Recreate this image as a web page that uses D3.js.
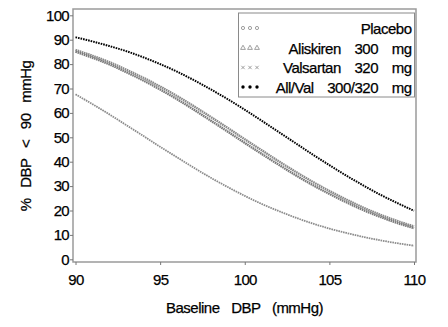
<!DOCTYPE html>
<html><head><meta charset="utf-8">
<script src="https://cdn.jsdelivr.net/npm/d3@7"></script>
<style>body{margin:0;background:#fff}svg{display:block}text{font-family:"Liberation Sans",Arial,sans-serif;fill:#000;stroke:#000;stroke-width:0.25}</style>
</head><body><svg id="c" width="448" height="327"></svg>
<script>
const xValues = [90,91,92,93,94,95,96,97,98,99,100,101,102,103,104,105,106,107,108,109,110];
const placebo   = [67.6,63.6,59.4,55.0,50.6,46.1,41.8,37.5,33.4,29.6,26.0,22.7,19.8,17.1,14.7,12.6,10.8,9.2,7.8,6.6,5.6];
const aliskiren = [85.8,83.4,80.8,77.7,74.4,70.8,66.9,62.7,58.3,53.8,49.2,44.7,40.2,35.9,31.8,28.0,24.5,21.2,18.3,15.7,13.5];
const valsartan = [85.1,82.6,79.9,76.7,73.3,69.6,65.6,61.3,56.8,52.3,47.7,43.2,38.8,34.5,30.5,26.8,23.4,20.2,17.4,14.9,12.8];
const aliVal    = [91.0,89.3,87.4,85.3,82.8,80.0,76.9,73.4,69.6,65.6,61.3,56.8,52.2,47.6,43.0,38.6,34.3,30.3,26.5,23.1,19.9];
const seriesNames = ["Placebo","Aliskiren 300 mg","Valsartan 320 mg","All/Val 300/320 mg"];
const xTicks = [90,95,100,105,110];
const yTicks = [0,10,20,30,40,50,60,70,80,90,100];

const svg = d3.select("#c");
const x = d3.scaleLinear().domain([90,110]).range([75.5,414]);
const y = d3.scaleLinear().domain([0,100]).range([259.3,15.3]);
const fL = 73, fR = 416, fT = 9, fB = 262;

// frame
svg.append("rect").attr("x",fL).attr("y",fT).attr("width",fR-fL).attr("height",fB-fT)
  .attr("fill","none").attr("stroke","#9a9a9a").attr("stroke-width",1.5);

// y axis
const yAx = svg.append("g").attr("transform",`translate(${fL},0)`)
  .call(d3.axisLeft(y).tickValues(yTicks).tickSize(3).tickPadding(1));
yAx.select(".domain").remove();
yAx.selectAll("line").attr("stroke","#777");
yAx.selectAll("text").attr("font-size",15).attr("font-family","Liberation Sans, Arial").attr("letter-spacing","-0.7").attr("fill","#000");

// x axis
const xAx = svg.append("g").attr("transform",`translate(0,${fB})`)
  .call(d3.axisBottom(x).tickValues(xTicks).tickSize(3).tickPadding(9));
xAx.select(".domain").remove();
xAx.selectAll("line").attr("stroke","#777");
xAx.selectAll("text").attr("font-size",15).attr("font-family","Liberation Sans, Arial").attr("letter-spacing","-0.7").attr("fill","#000");

// titles
svg.append("text").attr("x",244.5).attr("y",313).attr("text-anchor","middle")
  .attr("font-size",15).attr("letter-spacing","-0.5").attr("word-spacing","8px").text("Baseline DBP (mmHg)");
svg.append("text").attr("transform","translate(31,136) rotate(-90)").attr("text-anchor","middle")
  .attr("font-size",15).attr("letter-spacing","-0.5").attr("word-spacing","7px").text("% DBP < 90 mmHg");

// curves
const line = d3.line().x((d,i)=>x(xValues[i])).y(d=>y(d)).curve(d3.curveMonotoneX);
const styles = [
  {data:placebo, stroke:"#8c8c8c", w:1.8, dash:"1.6,0.8"},
  {data:aliskiren, stroke:"#8a8a8a", w:2.4, dash:"1.6,0.6"},
  {data:valsartan, stroke:"#7a7a7a", w:2.4, dash:"1.6,0.6"},
  {data:aliVal, stroke:"#000", w:2, dash:"1.6,1"}
];
styles.forEach(s=>{
  svg.append("path").attr("d",line(s.data)).attr("fill","none")
    .attr("stroke",s.stroke).attr("stroke-width",s.w).attr("stroke-dasharray",s.dash);
});

// legend
const lg = svg.append("g");
lg.append("rect").attr("x",238.5).attr("y",13).attr("width",176).attr("height",84)
  .attr("fill","#fff").attr("stroke","#8a8a8a").attr("stroke-width",1);
const rowY = [28,48,67.5,87];
const symX = [243,250,257];
seriesNames.forEach((name,i)=>{
  const yy = rowY[i];
  symX.forEach(sx=>{
    if(i===0) lg.append("circle").attr("cx",sx).attr("cy",yy).attr("r",1.6).attr("fill","none").attr("stroke","#888").attr("stroke-width",0.8);
    else if(i===1) lg.append("path").attr("d",d3.symbol(d3.symbolTriangle,10)()).attr("transform",`translate(${sx},${yy})`).attr("fill","none").attr("stroke","#888").attr("stroke-width",0.8);
    else if(i===2) lg.append("path").attr("d",`M${sx-1.7},${yy-1.7}L${sx+1.7},${yy+1.7}M${sx-1.7},${yy+1.7}L${sx+1.7},${yy-1.7}`).attr("stroke","#888").attr("stroke-width",0.8);
    else lg.append("circle").attr("cx",sx).attr("cy",yy).attr("r",1.7).attr("fill","#000");
  });
  lg.append("text").attr("x",411.5).attr("y",yy+5.5).attr("text-anchor","end")
    .attr("font-size",15).attr("word-spacing","10px").attr("letter-spacing","-0.5").text(name);
});
</script></body></html>
